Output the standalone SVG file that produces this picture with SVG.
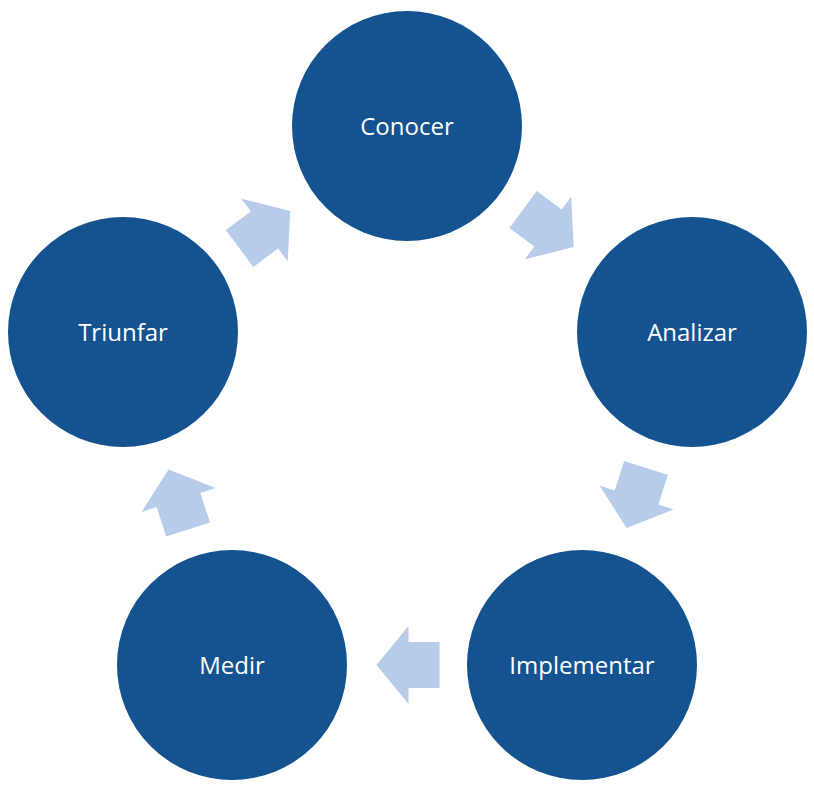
<svg xmlns="http://www.w3.org/2000/svg" width="814" height="791" viewBox="0 0 814 791">
<style>
.node{fill:#14538F}
.lbl{fill:#FFFFFF;font-family:"Open Sans","Noto Sans",sans-serif;font-size:24px;text-anchor:middle}
.arr{fill:#B7CCE8}
</style>
<defs>
<polygon id="arrow" points="-31,-23 0,-23 0,-39 32,0 0,39 0,23 -31,23"/>
</defs>
<rect width="814" height="791" fill="#FFFFFF"/>
<g id="connectors">
<use href="#arrow" class="arr" transform="translate(548,228) rotate(36.5)"/>
<use href="#arrow" class="arr" transform="translate(636.5,497.5) rotate(108)"/>
<use href="#arrow" class="arr" transform="translate(408.5,665) rotate(180)"/>
<use href="#arrow" class="arr" transform="translate(178.5,500) rotate(252)"/>
<use href="#arrow" class="arr" transform="translate(264.5,230) rotate(323.5)"/>
</g>
<g id="conocer"><circle class="node" cx="407" cy="126" r="115"/><text class="lbl" x="407" y="134.5">Conocer</text></g>
<g id="analizar"><circle class="node" cx="692" cy="332" r="115"/><text class="lbl" x="692" y="340.5">Analizar</text></g>
<g id="implementar"><circle class="node" cx="582" cy="665" r="115"/><text class="lbl" x="582" y="673.5">Implementar</text></g>
<g id="medir"><circle class="node" cx="232" cy="665" r="115"/><text class="lbl" x="232" y="673.5">Medir</text></g>
<g id="triunfar"><circle class="node" cx="123" cy="332" r="115"/><text class="lbl" x="123" y="340.5">Triunfar</text></g>
</svg>
